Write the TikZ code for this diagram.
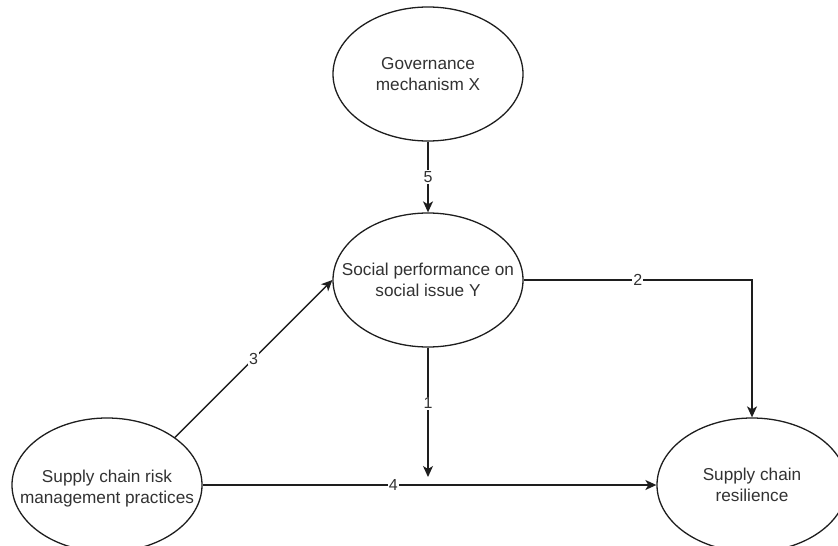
\documentclass[tikz,border=0pt]{standalone}
\usepackage{fontspec}
\setmainfont{Liberation Sans}
\usetikzlibrary{shapes.geometric,arrows.meta}
\definecolor{ink}{RGB}{30,30,30}
\definecolor{txt}{RGB}{50,50,50}
\begin{document}
\begin{tikzpicture}[x=1pt,y=-1pt,
  concept/.style={ellipse,draw=ink,line width=1.3pt,fill=white,
    minimum width=190pt,minimum height=134pt,inner sep=0pt},
  caption/.style={align=center,text=txt,inner sep=0pt,
    font=\fontsize{17.2}{21}\selectfont},
  link/.style={draw=ink,line width=1.4pt,
    -{Stealth[length=11pt,width=10pt,inset=3pt]}},
  tag/.style={fill=white,inner sep=1pt,text=txt,
    font=\fontsize{16}{18}\selectfont}]
\useasboundingbox (0,0) rectangle (838,546);

% constructs (outline first, then the wording on top)
\node[concept] (gov) at (428,74)  {};
\node[concept] (soc) at (428,280) {};
\node[concept] (scrm) at (107,485) {};
\node[concept] (res) at (752,485) {};
\node[caption] (govt) at (gov)  {Governance\\mechanism X};
\node[caption] (soct) at (soc)  {Social performance on\\social issue Y};
\node[caption] (scrmt) at ([yshift=-4pt]scrm) {Supply chain risk\\management practices};
\node[caption] (rest) at (res)  {Supply chain\\resilience};

% moderation target point on path 4
\coordinate (mod) at (428,477);

% relationships
\draw[link] (gov.south) -- node[tag,pos=0.5] {5} (soc.north);
\draw[link] (soc.east) -| node[tag,pos=0.25] {2} (res.north);
\draw[link] (soc.south) -- node[tag,pos=0.43] {1} (mod);
\draw[link] (scrm.35) -- node[tag,pos=0.5] {3} (soc.west);
\draw[link] (scrm.east) -- node[tag,pos=0.42] {4} (res.west);
\end{tikzpicture}
\end{document}
